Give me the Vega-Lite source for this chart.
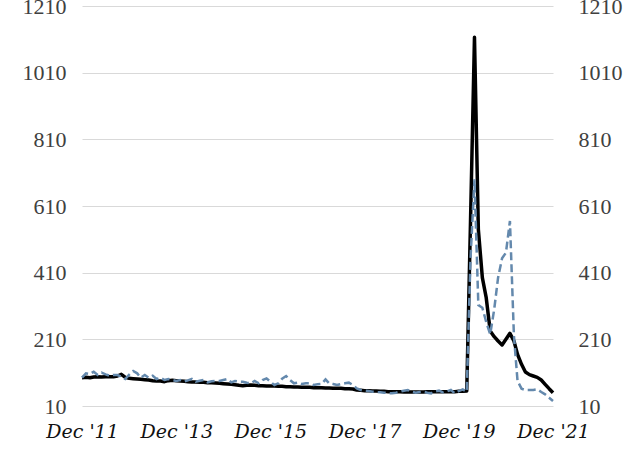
{
  "$schema": "https://vega.github.io/schema/vega-lite/v6.json",
  "width": 471,
  "height": 400,
  "autosize": {"type": "none"},
  "padding": {"left": 82, "top": 6, "right": 88, "bottom": 45},
  "background": "white",
  "config": {"view": {"stroke": null}},
  "data": {"values": [
    {"date":"2011-12-01","black":95,"blue":95},
    {"date":"2012-01-01","black":96,"blue":108},
    {"date":"2012-02-01","black":95,"blue":106},
    {"date":"2012-03-01","black":97,"blue":113},
    {"date":"2012-04-01","black":98,"blue":103},
    {"date":"2012-05-01","black":97,"blue":110},
    {"date":"2012-06-01","black":98,"blue":105},
    {"date":"2012-07-01","black":98,"blue":101},
    {"date":"2012-08-01","black":98,"blue":103},
    {"date":"2012-09-01","black":100,"blue":103},
    {"date":"2012-10-01","black":105,"blue":98},
    {"date":"2012-11-01","black":96,"blue":91},
    {"date":"2012-12-01","black":93,"blue":104},
    {"date":"2013-01-01","black":92,"blue":115},
    {"date":"2013-02-01","black":91,"blue":108},
    {"date":"2013-03-01","black":90,"blue":95},
    {"date":"2013-04-01","black":89,"blue":103},
    {"date":"2013-05-01","black":88,"blue":95},
    {"date":"2013-06-01","black":86,"blue":101},
    {"date":"2013-07-01","black":85,"blue":91},
    {"date":"2013-08-01","black":85,"blue":95},
    {"date":"2013-09-01","black":83,"blue":88},
    {"date":"2013-10-01","black":86,"blue":91},
    {"date":"2013-11-01","black":87,"blue":88},
    {"date":"2013-12-01","black":86,"blue":85},
    {"date":"2014-01-01","black":85,"blue":88},
    {"date":"2014-02-01","black":84,"blue":83},
    {"date":"2014-03-01","black":83,"blue":87},
    {"date":"2014-04-01","black":82,"blue":91},
    {"date":"2014-05-01","black":82,"blue":83},
    {"date":"2014-06-01","black":81,"blue":86},
    {"date":"2014-07-01","black":81,"blue":88},
    {"date":"2014-08-01","black":80,"blue":81},
    {"date":"2014-09-01","black":80,"blue":84},
    {"date":"2014-10-01","black":79,"blue":85},
    {"date":"2014-11-01","black":78,"blue":85},
    {"date":"2014-12-01","black":77,"blue":88},
    {"date":"2015-01-01","black":76,"blue":91},
    {"date":"2015-02-01","black":75,"blue":81},
    {"date":"2015-03-01","black":74,"blue":85},
    {"date":"2015-04-01","black":72,"blue":83},
    {"date":"2015-05-01","black":71,"blue":83},
    {"date":"2015-06-01","black":72,"blue":80},
    {"date":"2015-07-01","black":73,"blue":78},
    {"date":"2015-08-01","black":72,"blue":85},
    {"date":"2015-09-01","black":71,"blue":78},
    {"date":"2015-10-01","black":71,"blue":88},
    {"date":"2015-11-01","black":70,"blue":93},
    {"date":"2015-12-01","black":70,"blue":83},
    {"date":"2016-01-01","black":70,"blue":73},
    {"date":"2016-02-01","black":69,"blue":78},
    {"date":"2016-03-01","black":69,"blue":92},
    {"date":"2016-04-01","black":68,"blue":100},
    {"date":"2016-05-01","black":68,"blue":88},
    {"date":"2016-06-01","black":67,"blue":78},
    {"date":"2016-07-01","black":67,"blue":80},
    {"date":"2016-08-01","black":66,"blue":76},
    {"date":"2016-09-01","black":66,"blue":78},
    {"date":"2016-10-01","black":66,"blue":78},
    {"date":"2016-11-01","black":65,"blue":73},
    {"date":"2016-12-01","black":65,"blue":75},
    {"date":"2017-01-01","black":65,"blue":76},
    {"date":"2017-02-01","black":64,"blue":90},
    {"date":"2017-03-01","black":64,"blue":78},
    {"date":"2017-04-01","black":63,"blue":76},
    {"date":"2017-05-01","black":63,"blue":73},
    {"date":"2017-06-01","black":63,"blue":76},
    {"date":"2017-07-01","black":62,"blue":78},
    {"date":"2017-08-01","black":62,"blue":80},
    {"date":"2017-09-01","black":61,"blue":73},
    {"date":"2017-10-01","black":58,"blue":63},
    {"date":"2017-11-01","black":57,"blue":58},
    {"date":"2017-12-01","black":56,"blue":56},
    {"date":"2018-01-01","black":56,"blue":55},
    {"date":"2018-02-01","black":55,"blue":53},
    {"date":"2018-03-01","black":55,"blue":52},
    {"date":"2018-04-01","black":54,"blue":51},
    {"date":"2018-05-01","black":54,"blue":50},
    {"date":"2018-06-01","black":53,"blue":49},
    {"date":"2018-07-01","black":53,"blue":48},
    {"date":"2018-08-01","black":53,"blue":50},
    {"date":"2018-09-01","black":53,"blue":53},
    {"date":"2018-10-01","black":52,"blue":56},
    {"date":"2018-11-01","black":52,"blue":58},
    {"date":"2018-12-01","black":52,"blue":53},
    {"date":"2019-01-01","black":52,"blue":50},
    {"date":"2019-02-01","black":52,"blue":52},
    {"date":"2019-03-01","black":52,"blue":53},
    {"date":"2019-04-01","black":53,"blue":50},
    {"date":"2019-05-01","black":53,"blue":48},
    {"date":"2019-06-01","black":53,"blue":54},
    {"date":"2019-07-01","black":53,"blue":56},
    {"date":"2019-08-01","black":53,"blue":51},
    {"date":"2019-09-01","black":53,"blue":54},
    {"date":"2019-10-01","black":53,"blue":58},
    {"date":"2019-11-01","black":53,"blue":48},
    {"date":"2019-12-01","black":54,"blue":55},
    {"date":"2020-01-01","black":54,"blue":60},
    {"date":"2020-02-01","black":55,"blue":53},
    {"date":"2020-03-01","black":560,"blue":450},
    {"date":"2020-04-01","black":1116,"blue":690},
    {"date":"2020-05-01","black":540,"blue":313},
    {"date":"2020-06-01","black":395,"blue":305},
    {"date":"2020-07-01","black":335,"blue":262},
    {"date":"2020-08-01","black":235,"blue":225},
    {"date":"2020-09-01","black":218,"blue":300},
    {"date":"2020-10-01","black":205,"blue":395},
    {"date":"2020-11-01","black":193,"blue":453},
    {"date":"2020-12-01","black":210,"blue":470},
    {"date":"2021-01-01","black":228,"blue":565},
    {"date":"2021-02-01","black":205,"blue":220},
    {"date":"2021-03-01","black":165,"blue":85},
    {"date":"2021-04-01","black":135,"blue":62},
    {"date":"2021-05-01","black":112,"blue":58},
    {"date":"2021-06-01","black":104,"blue":58},
    {"date":"2021-07-01","black":100,"blue":58},
    {"date":"2021-08-01","black":96,"blue":60},
    {"date":"2021-09-01","black":88,"blue":52},
    {"date":"2021-10-01","black":75,"blue":45},
    {"date":"2021-11-01","black":62,"blue":35},
    {"date":"2021-12-01","black":50,"blue":25}
  ]},
  "encoding": {
    "x": {
      "field": "date",
      "timeUnit": "utcyearmonth",
      "type": "temporal",
      "scale": {"domain": [
        {"year": 2011, "month": 12, "date": 1, "utc": true},
        {"year": 2021, "month": 12, "date": 1, "utc": true}
      ]},
      "axis": {
        "title": null,
        "format": "%b '%y",
        "values": [
          {"year": 2011, "month": 12, "date": 1, "utc": true},
          {"year": 2013, "month": 12, "date": 1, "utc": true},
          {"year": 2015, "month": 12, "date": 1, "utc": true},
          {"year": 2017, "month": 12, "date": 1, "utc": true},
          {"year": 2019, "month": 12, "date": 1, "utc": true},
          {"year": 2021, "month": 12, "date": 1, "utc": true}
        ],
        "grid": false,
        "ticks": false,
        "domain": false,
        "labelFont": "DejaVu Serif",
        "labelFontStyle": "italic",
        "labelFontWeight": "normal",
        "labelFontSize": 19,
        "labelColor": "#111111",
        "labelPadding": 16,
        "labelFlush": false,
        "labelOverlap": false
      }
    }
  },
  "layer": [
    {
      "mark": {"type": "line", "color": "#000000", "strokeWidth": 3.5, "strokeJoin": "round"},
      "encoding": {
        "y": {
          "field": "black",
          "type": "quantitative",
          "scale": {"domain": [10, 1210], "nice": false, "zero": false},
          "axis": {
            "title": null,
            "orient": "left",
            "format": "d",
            "values": [10, 210, 410, 610, 810, 1010, 1210],
            "grid": true,
            "gridColor": "#d9d9d9",
            "gridWidth": 1,
            "ticks": false,
            "domain": false,
            "labelFont": "Liberation Serif, DejaVu Serif, serif",
            "labelFontWeight": "normal",
            "labelFontSize": 22,
            "labelColor": "#404040",
            "labelPadding": 16
          }
        }
      }
    },
    {
      "mark": {"type": "line", "color": "#6489ad", "strokeWidth": 2.5, "strokeDash": [8, 4]},
      "encoding": {
        "y": {
          "field": "blue",
          "type": "quantitative",
          "scale": {"domain": [10, 1210], "nice": false, "zero": false},
          "axis": {
            "title": null,
            "orient": "right",
            "format": "d",
            "values": [10, 210, 410, 610, 810, 1010, 1210],
            "grid": false,
            "ticks": false,
            "domain": false,
            "labelFont": "Liberation Serif, DejaVu Serif, serif",
            "labelFontWeight": "normal",
            "labelFontSize": 22,
            "labelColor": "#404040",
            "labelPadding": 25
          }
        }
      }
    }
  ],
  "resolve": {"scale": {"y": "independent"}}
}
